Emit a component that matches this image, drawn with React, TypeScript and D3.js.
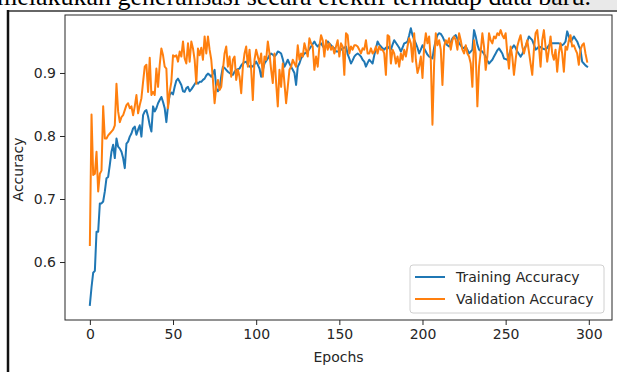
import { useEffect, useRef } from 'react';
import * as d3 from 'd3';

// Training accuracy per epoch
const trainAcc = [
  0.532, 0.56, 0.583, 0.586, 0.648, 0.648, 0.693, 0.693, 0.696, 0.712,
  0.733, 0.735, 0.754, 0.775, 0.786, 0.765, 0.796, 0.783, 0.78, 0.775,
  0.765, 0.749, 0.788, 0.791, 0.799, 0.804, 0.812, 0.815, 0.802, 0.81,
  0.817, 0.799, 0.833, 0.839, 0.841, 0.831, 0.817, 0.807, 0.847, 0.839,
  0.844, 0.852, 0.857, 0.862, 0.854, 0.844, 0.822, 0.849, 0.865, 0.869,
  0.866, 0.878, 0.888, 0.891, 0.886, 0.881, 0.871, 0.87, 0.876, 0.878,
  0.871, 0.874, 0.878, 0.882, 0.886, 0.883, 0.886, 0.886, 0.889, 0.891,
  0.896, 0.899, 0.897, 0.894, 0.899, 0.905, 0.876, 0.871, 0.875, 0.895,
  0.91, 0.908, 0.905, 0.902, 0.9, 0.898, 0.897, 0.902, 0.905, 0.906,
  0.907, 0.912, 0.915, 0.917, 0.918, 0.913, 0.91, 0.911, 0.91, 0.914,
  0.918, 0.913, 0.907, 0.894, 0.905, 0.915, 0.919, 0.923, 0.928, 0.931,
  0.929, 0.926, 0.929, 0.934, 0.933, 0.931, 0.922, 0.91, 0.915, 0.921,
  0.915, 0.91, 0.905, 0.9, 0.881, 0.91, 0.915, 0.923, 0.927, 0.931,
  0.932, 0.934, 0.938, 0.942, 0.946, 0.95, 0.945, 0.942, 0.945, 0.947,
  0.943, 0.939, 0.945, 0.95, 0.947, 0.944, 0.941, 0.939, 0.934, 0.934,
  0.934, 0.937, 0.939, 0.94, 0.942, 0.93, 0.923, 0.915, 0.92, 0.926,
  0.929, 0.931, 0.929, 0.926, 0.921, 0.918, 0.91, 0.916, 0.921, 0.918,
  0.915, 0.928, 0.939, 0.95, 0.945, 0.942, 0.939, 0.937, 0.94, 0.942,
  0.939, 0.937, 0.945, 0.952, 0.948, 0.944, 0.94, 0.934, 0.94, 0.947,
  0.948, 0.95, 0.96, 0.971, 0.96, 0.953, 0.947, 0.94, 0.931, 0.937,
  0.944, 0.939, 0.934, 0.929, 0.926, 0.925, 0.923, 0.94, 0.952, 0.96,
  0.963, 0.962, 0.958, 0.952, 0.947, 0.944, 0.942, 0.948, 0.955, 0.958,
  0.96, 0.954, 0.947, 0.944, 0.939, 0.94, 0.942, 0.937, 0.931, 0.934,
  0.937, 0.968, 0.958, 0.945, 0.937, 0.935, 0.934, 0.93, 0.926, 0.92,
  0.915, 0.918, 0.921, 0.926, 0.931, 0.936, 0.939, 0.935, 0.931, 0.923,
  0.922, 0.921, 0.928, 0.937, 0.94, 0.944, 0.94, 0.934, 0.93, 0.926,
  0.93, 0.937, 0.942, 0.95, 0.958, 0.955, 0.952, 0.945, 0.937, 0.939,
  0.942, 0.941, 0.939, 0.938, 0.937, 0.94, 0.944, 0.946, 0.947, 0.947,
  0.947, 0.947, 0.947, 0.946, 0.944, 0.946, 0.95, 0.966, 0.958, 0.95,
  0.953, 0.958, 0.954, 0.95, 0.943, 0.937, 0.918, 0.915, 0.912, 0.91,
];

// Validation accuracy per epoch
const valAcc = [
  0.627, 0.834, 0.738, 0.74, 0.775, 0.712, 0.74, 0.745, 0.847, 0.796,
  0.796, 0.801, 0.804, 0.807, 0.81, 0.817, 0.883, 0.839, 0.822, 0.83,
  0.833, 0.841, 0.849, 0.852, 0.844, 0.847, 0.833, 0.847, 0.865, 0.836,
  0.849, 0.86, 0.886, 0.91, 0.913, 0.87, 0.924, 0.865, 0.87, 0.865,
  0.907, 0.878, 0.913, 0.939, 0.928, 0.91, 0.907, 0.844, 0.87, 0.886,
  0.928, 0.926, 0.928, 0.918, 0.934, 0.926, 0.95, 0.923, 0.915, 0.947,
  0.918, 0.95, 0.939, 0.921, 0.883, 0.939, 0.928, 0.94, 0.921, 0.958,
  0.931, 0.958, 0.937, 0.921, 0.889, 0.852, 0.878, 0.889, 0.873, 0.878,
  0.905, 0.931, 0.942, 0.91, 0.926, 0.894, 0.921, 0.926, 0.889, 0.905,
  0.894, 0.868, 0.91, 0.931, 0.942, 0.91, 0.937, 0.905, 0.857, 0.921,
  0.937, 0.926, 0.915, 0.931, 0.894, 0.926, 0.921, 0.95, 0.931, 0.905,
  0.884, 0.931, 0.884, 0.847, 0.905, 0.878, 0.915, 0.884, 0.852, 0.878,
  0.905, 0.91, 0.921, 0.915, 0.91, 0.944, 0.921, 0.931, 0.926, 0.947,
  0.937, 0.926, 0.955, 0.947, 0.942, 0.905, 0.926, 0.91, 0.942, 0.96,
  0.952, 0.926, 0.952, 0.937, 0.947, 0.937, 0.942, 0.931, 0.942, 0.952,
  0.926, 0.947, 0.942, 0.897, 0.963, 0.96, 0.931, 0.942, 0.937, 0.944,
  0.944, 0.942, 0.937, 0.931, 0.939, 0.937, 0.952, 0.931, 0.931, 0.939,
  0.931, 0.934, 0.942, 0.931, 0.942, 0.937, 0.937, 0.931, 0.897, 0.96,
  0.958, 0.915, 0.937, 0.931, 0.915, 0.926, 0.91, 0.931, 0.921, 0.937,
  0.926, 0.942, 0.955, 0.947, 0.918, 0.963, 0.921, 0.9, 0.91, 0.926,
  0.892, 0.942, 0.963, 0.947, 0.958, 0.921, 0.818, 0.915, 0.963, 0.944,
  0.952, 0.937, 0.881, 0.942, 0.952, 0.947, 0.955, 0.937, 0.952, 0.958,
  0.952, 0.937, 0.963, 0.952, 0.937, 0.931, 0.944, 0.931, 0.926, 0.915,
  0.878, 0.952, 0.931, 0.847, 0.91, 0.934, 0.963, 0.942, 0.905, 0.926,
  0.963, 0.952, 0.947, 0.958, 0.955, 0.963, 0.96, 0.968, 0.96, 0.955,
  0.963, 0.931, 0.907, 0.942, 0.926, 0.897, 0.921, 0.942, 0.952, 0.96,
  0.942, 0.931, 0.942, 0.952, 0.934, 0.915, 0.897, 0.937, 0.963, 0.968,
  0.942, 0.91, 0.952, 0.968, 0.942, 0.918, 0.937, 0.958, 0.931, 0.921,
  0.937, 0.902, 0.931, 0.947, 0.931, 0.902, 0.942, 0.937, 0.952, 0.96,
  0.942, 0.944, 0.937, 0.931, 0.913, 0.937, 0.944, 0.947, 0.931, 0.918,
];

const xTicks = [0, 50, 100, 150, 200, 250, 300];
const yTicks = [0.6, 0.7, 0.8, 0.9];
const seriesNames = ['Training Accuracy', 'Validation Accuracy'];
const seriesColors = ['#1f77b4', '#ff7f0e'];
const captionText = 'melakukan generalisasi secara efektif terhadap data baru.';

export default function App() {
  const svgRef = useRef<SVGSVGElement>(null);

  useEffect(() => {
    if (!svgRef.current) return;
    d3.select(svgRef.current).selectAll('*').remove();

    const width = 617;
    const height = 372;
    const plot = { left: 65, right: 612, top: 15, bottom: 320 };
    const font = 'DejaVu Sans, sans-serif';
    const ink = '#262626';
    const fs = '14px';

    const svg = d3.select(svgRef.current)
      .attr('width', width)
      .attr('height', height);

    svg.append('rect').attr('width', width).attr('height', height).attr('fill', '#fff');

    // document fragment around the figure (caption line is cut by the crop)
    svg.append('rect')
      .attr('x', 548).attr('y', 0).attr('width', 69).attr('height', 10)
      .attr('fill', '#e9e9e9');
    svg.append('text')
      .attr('x', 591).attr('y', 5)
      .attr('text-anchor', 'end')
      .style('font-family', 'Liberation Serif, Times New Roman, serif')
      .style('font-size', '26px')
      .attr('fill', '#000')
      .text(captionText);
    svg.append('line')
      .attr('x1', 7).attr('x2', width).attr('y1', 11).attr('y2', 11)
      .attr('stroke', '#333').attr('stroke-width', 1.5);
    svg.append('line')
      .attr('x1', 8).attr('x2', 8).attr('y1', 10).attr('y2', height)
      .attr('stroke', '#111').attr('stroke-width', 2.5);

    const n = trainAcc.length;
    const pad = (n - 1) * 0.05;
    const x = d3.scaleLinear()
      .domain([-pad, n - 1 + pad])
      .range([plot.left, plot.right]);
    const y = d3.scaleLinear()
      .domain([0.508, 0.992])
      .range([plot.bottom, plot.top]);

    const line = d3.line<number>()
      .x((_, i) => x(i))
      .y(d => y(d));

    const g = svg.append('g');

    [trainAcc, valAcc].forEach((series, k) => {
      g.append('path')
        .datum(series)
        .attr('d', line)
        .attr('fill', 'none')
        .attr('stroke', seriesColors[k])
        .attr('stroke-width', 2)
        .attr('stroke-linejoin', 'round')
        .attr('stroke-linecap', 'square');
    });

    // axes
    const xAxis = svg.append('g')
      .attr('transform', `translate(0,${plot.bottom})`)
      .call(d3.axisBottom(x).tickValues(xTicks).tickSize(5).tickPadding(4).tickFormat(d3.format('d')));
    const yAxis = svg.append('g')
      .attr('transform', `translate(${plot.left},0)`)
      .call(d3.axisLeft(y).tickValues(yTicks).tickSize(5).tickPadding(4).tickFormat(d3.format('.1f')));

    [xAxis, yAxis].forEach(ax => {
      ax.select('.domain').remove();
      ax.selectAll('.tick line').attr('stroke', ink).attr('stroke-width', 1);
      ax.selectAll('.tick text')
        .attr('fill', ink)
        .style('font-family', font)
        .style('font-size', fs);
    });

    // spines
    svg.append('rect')
      .attr('x', plot.left).attr('y', plot.top)
      .attr('width', plot.right - plot.left)
      .attr('height', plot.bottom - plot.top)
      .attr('fill', 'none')
      .attr('stroke', ink)
      .attr('stroke-width', 1);

    svg.append('text')
      .attr('x', (plot.left + plot.right) / 2)
      .attr('y', 362)
      .attr('text-anchor', 'middle')
      .attr('fill', ink)
      .style('font-family', font)
      .style('font-size', fs)
      .text('Epochs');

    svg.append('text')
      .attr('transform', `translate(23,${(plot.top + plot.bottom) / 2 + 2}) rotate(-90)`)
      .attr('text-anchor', 'middle')
      .attr('fill', ink)
      .style('font-family', font)
      .style('font-size', fs)
      .text('Accuracy');

    // legend
    const legend = svg.append('g').attr('transform', 'translate(410,265)');
    legend.append('rect')
      .attr('width', 194).attr('height', 48)
      .attr('rx', 3)
      .attr('fill', '#fff').attr('fill-opacity', 0.8)
      .attr('stroke', '#d0d0d0');
    seriesNames.forEach((name, k) => {
      const yy = 12 + k * 22;
      legend.append('line')
        .attr('x1', 5).attr('x2', 35).attr('y1', yy).attr('y2', yy)
        .attr('stroke', seriesColors[k]).attr('stroke-width', 2);
      legend.append('text')
        .attr('x', 46).attr('y', yy + 5)
        .attr('fill', ink)
        .style('font-family', font)
        .style('font-size', fs)
        .text(name);
    });
  }, []);

  return (
    <svg ref={svgRef} style={{ position: 'absolute', left: 0, top: 0, display: 'block' }} />
  );
}
